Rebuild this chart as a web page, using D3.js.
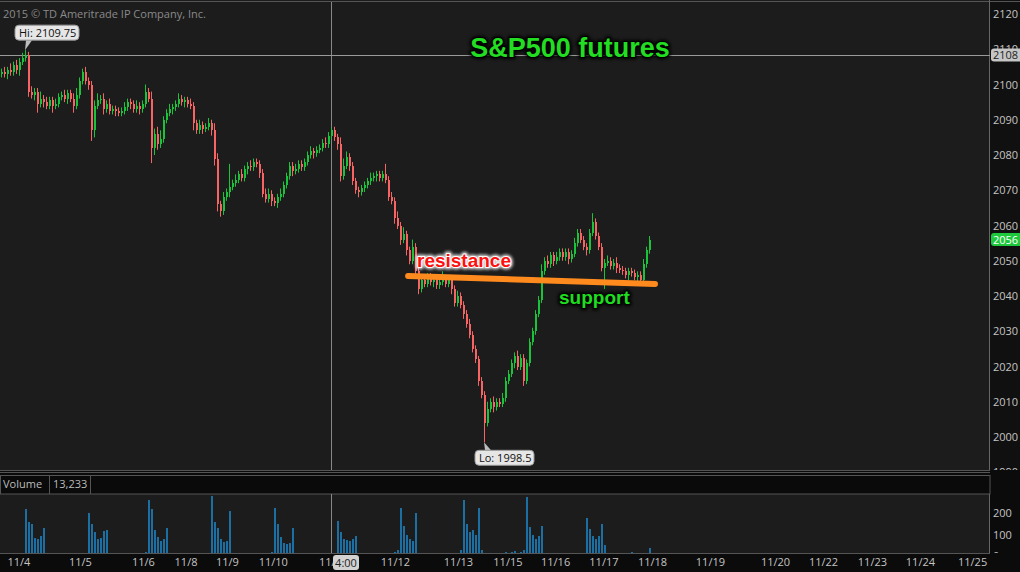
<!DOCTYPE html>
<html><head><meta charset="utf-8">
<script src="https://cdn.jsdelivr.net/npm/d3@7"></script>
<style>
body{margin:0;background:#0b0b0b;}
svg{display:block;font-family:"Open Sans",sans-serif;}
</style></head><body>
<script>
// price bars, one every ~3px in the reference; open = previous close
var openFirst = 2103;
var closes = [
2103.5,2103,2104,2103.5,2105.5,2104,2106.5,2107.5,2108.5,2098,
2097,2098,2094.5,2096,2095,2094,2095.5,2094,2094.5,2096.5,
2097,2096,2097.5,2096,2094,2097,2101,2103.5,2101,2100,
2087,2094,2095.5,2096,2093,2094.5,2092.5,2093,2092.5,2092,
2092.5,2093.5,2095,2094.5,2093,2094,2093,2094.5,2098,2096,
2082,2086,2083,2084.5,2090,2092,2093,2093.5,2094.5,2096,
2095,2095.5,2094.5,2094,2089,2087,2088.5,2087.5,2088,2089,
2087,2079,2066,2064,2068,2069.5,2071,2072,2073,2074.5,
2073.5,2076,2077,2076.5,2078,2077.5,2075,2069,2067.5,2069,
2067,2066.5,2068,2069,2071.5,2074,2077,2075.5,2076,2077.5,
2076.5,2078,2080,2081,2080.5,2081.5,2082,2083.5,2083,2085.5,
2087,2085,2083,2074,2077,2079.5,2077,2072.5,2070,2069.5,
2070.5,2071.5,2072.5,2073.5,2074,2074.5,2073.5,2074.5,2073,2068,
2067,2062,2060,2056,2057.5,2053,2050,2054,2047,2042,
2044.5,2043.5,2045.5,2044,2044.5,2043,2044,2045,2043.5,2045,
2042,2038,2040,2037.5,2035,2032,2029,2025,2022,2016,
2012,2004,2008,2010,2008.5,2010,2009.5,2011,2016,2018,
2021,2023,2020,2022.5,2016,2021,2027,2030,2035,2039,
2047,2050,2049,2051.5,2050,2051,2052.5,2051,2052.5,2050.5,
2052,2055,2058,2056,2054,2053,2058,2061,2057,2054,
2048,2049.5,2050,2048.5,2049.5,2048,2047.5,2047,2046,2047,
2046.5,2045.5,2046,2044.5,2049,2053,2056];
var wickUp = [
1,1.5,1,2,1,1.5,1,1.5,1.25,.75,
1.5,1,1,2,1,1.5,1,1,1.5,1,
1,1.5,1,1,1.5,2,1,1,1.5,1,
1,1.5,2,1,1.5,1,1.5,1,1,1,
1,1.5,1,1,1,1.5,1,1,2,1,
2,1.5,2,2.5,1,1,1.5,1,1,1.5,
1,1,1,1.5,1,1,1.5,1,1,1.5,
1,2,1.5,1,1.5,1,6.5,1,1.5,1,
1.5,1,1,1.5,1,1,1,1,1.5,1.5,
1,1,1,1.5,1,1,1,1,1.5,1,
1,1,1,1.5,1,1,1,1,1.5,1,
.75,1,1,2,2,1.5,1,1,1,1,
1,1,1,1.5,1,1,1,1,3,1,
1.5,1,2,1,2,1,1,2,1,1,
1,1.5,1,1,1,1,1,2,1,1,
1,1,1.5,1,1,1,1.5,1,1,1,
1,1,2,1,1.5,1,1,1.5,1,1,
1,1,1.5,1,1,1,1,1,1,1,
2,1,1.5,1,1,1.5,1,1,1,1,
1,1.5,1,1,1,1,1,2.5,1,1,
1,1,1.5,1,1,1.5,1,1,1,1,
1,1,1,1,1.5,1,1];
var wickDn = [
1,1,1.5,1,1,1,1.5,1,1,1.5,
1,1.5,2.5,1,1.5,1,1,2,1,1,
1,1,1.5,1,2,1,1,1,1,1.5,
3,2,1,1,1.5,1,1,1,1.5,1,
1,1,1,1.5,1,1,1.5,1,1,1,
4.3,2,1.5,1,1,1,1,1.5,1,1,
1,1.5,1,1,2,1,1,1.5,1,1,
1.5,2,2,1.5,1,1,1.5,1,1,1,
1,1,1.5,1,1,1,1.5,1,1,1,
1.5,1,1.5,1,1,1,1,1.5,1,1,
1,1,1,1,1.5,1,1,1,1,1,
1,1,1.5,1.5,1,1,1.5,1,1,1.5,
1,1,1,1,1,1.5,1,1,1,1,
1,1.5,1,1.5,1,1.5,1,1,1.5,1.5,
1,1,1,1,1.5,1,1,1,1,1,
1.5,1,1,1,1.5,1,1,1,1,1.5,
1,5.5,1,1,1.5,1,1,1,1,1,
1,1.5,1,1,1.5,1,1,1,1,1,
1,1,1,1,1.5,1,1,1,1,1.5,
1,1,1,1,1,1.5,1,1,1,1,
1,6,1,1,1,1.5,1,1,1,1.5,
1,1,1.5,1,1,1,1];
var volumes = [
4,6,5,3,2,8,12,10,
217,160,150,85,80,95,130,
1,1,1,0,0,1,1,1,
5,6,4,7,5,12,
201,150,110,80,85,115,121,
1,1,0,0,1,1,0,1,
4,3,6,8,20,
260,218,120,90,70,80,130,
1,1,1,0,0,1,1,
3,5,6,4,7,5,10,
279,160,130,80,65,70,209,
1,1,0,1,0,1,1,3,
8,10,6,9,12,20,
225,150,90,60,55,60,130,
1,1,0,1,0,1,1,2,
5,7,6,8,10,14,
163,110,80,75,70,80,93,
1,1,0,1,1,0,1,2,
8,6,9,7,20,30,
225,140,100,80,70,201,15,
1,1,0,1,1,0,1,2,
10,8,12,9,15,30,
260,150,110,120,100,225,30,
10,8,12,6,5,
10,15,20,12,18,25,14,20,
30,276,135,100,80,95,140,5,
1,1,0,1,0,1,2,
10,9,12,8,10,15,
176,125,95,80,95,149,50,
1,1,0,1,0,1,1,2,
20,5,8,10,12,10,39];

var tickBars = [5.8,26.3,47.3,61.5,75.3,90.6,110.7,131.3,152.3,168.8,184.7,200.8,217,236.3,258,274,290.3,306.3,323.7];
var tickLabels = ["11/4","11/5","11/6","11/8","11/9","11/10","11/11","11/12","11/13","11/15","11/16","11/17","11/18","11/19","11/20","11/22","11/23","11/24","11/25"];
var priceTicks = [1990,2000,2010,2020,2030,2040,2050,2060,2070,2080,2090,2100,2110,2120];
var volTicks = [0,100,200];

var hiPoint = {bar: 8, price: 2109.75, text: "Hi: 2109.75"};
var loPoint = {bar: 161, price: 1998.5, text: "Lo: 1998.5"};
var trendLine = [{bar: 135.7, price: 2045.7}, {bar: 218, price: 2043.4}];
var crossBar = 110, crossPrice = 2108.4, crossTime = "4:00";
var lastPrice = 2056;
var lastVolume = "13,233";

var W = 1020, H = 572, plotR = 990;
var green = "#17c43a", red = "#f86464", flat = "#b4b4b4", volColor = "#1b6fa3";

var svg = d3.select("body").append("svg").attr("width", W).attr("height", H);
var defs = svg.append("defs");
defs.append("clipPath").attr("id", "pclip").append("rect").attr("x", 0).attr("y", 2).attr("width", plotR).attr("height", 468);
defs.append("clipPath").attr("id", "paxclip").append("rect").attr("x", plotR).attr("y", 0).attr("width", 30).attr("height", 470);
defs.append("clipPath").attr("id", "vaxclip").append("rect").attr("x", plotR).attr("y", 494).attr("width", 30).attr("height", 59);
var blur = defs.append("filter").attr("id", "soft").attr("x", "-20%").attr("y", "-40%").attr("width", "140%").attr("height", "180%");
blur.append("feGaussianBlur").attr("stdDeviation", 1.5);

var x = d3.scaleLinear().domain([0, 330]).range([1, 991]);
var y = d3.scaleLinear().domain([2000, 2120]).range([437, 14]);
var yv = d3.scaleLinear().domain([0, 200]).range([556, 513]);

// panels
svg.append("rect").attr("x", 0).attr("y", 0).attr("width", plotR).attr("height", 470).attr("fill", "#1c1c1c");
svg.append("rect").attr("x", plotR).attr("y", 0).attr("width", 30).attr("height", 470).attr("fill", "#101010");
svg.append("rect").attr("x", 0).attr("y", 494).attr("width", plotR).attr("height", 59).attr("fill", "#1c1c1c");
svg.append("rect").attr("x", 0.5).attr("y", 475.5).attr("width", plotR - 0.5).attr("height", 18.5).attr("fill", "#0a0a0a").attr("stroke", "#555");
svg.append("line").attr("x1", 0).attr("x2", W).attr("y1", 1.5).attr("y2", 1.5).attr("stroke", "#555");
[470.5, 472.5].forEach(function(v){
  svg.append("line").attr("x1", 0).attr("x2", plotR).attr("y1", v).attr("y2", v).attr("stroke", "#555");
});
svg.append("line").attr("x1", plotR - 0.5).attr("x2", plotR - 0.5).attr("y1", 0).attr("y2", 470).attr("stroke", "#666");
svg.append("line").attr("x1", plotR - 0.5).attr("x2", plotR - 0.5).attr("y1", 494).attr("y2", 553).attr("stroke", "#666");
svg.append("line").attr("x1", 0).attr("x2", plotR).attr("y1", 553.5).attr("y2", 553.5).attr("stroke", "#555");
[49.5, 90.5].forEach(function(v){
  svg.append("line").attr("x1", v).attr("x2", v).attr("y1", 475).attr("y2", 494).attr("stroke", "#555");
});
svg.append("text").attr("x", 3).attr("y", 488).attr("fill", "#bbb").attr("font-size", 11).text("Volume");
svg.append("text").attr("x", 53).attr("y", 488).attr("fill", "#bbb").attr("font-size", 11).text(lastVolume);

svg.append("text").attr("x", 3).attr("y", 18).attr("fill", "#8a8a8a").attr("font-size", 11).text("2015 \u00a9 TD Ameritrade IP Company, Inc.");

// crosshair
svg.append("line").attr("x1", x(crossBar) + 0.5).attr("x2", x(crossBar) + 0.5).attr("y1", 2).attr("y2", 470).attr("stroke", "#888");
svg.append("line").attr("x1", x(crossBar) + 0.5).attr("x2", x(crossBar) + 0.5).attr("y1", 494).attr("y2", 553).attr("stroke", "#888");
svg.append("line").attr("x1", 0).attr("x2", plotR).attr("y1", Math.round(y(crossPrice)) + 0.5).attr("y2", Math.round(y(crossPrice)) + 0.5).attr("stroke", "#999");

// candles
var bars = closes.map(function(c, i){
  var o = i ? closes[i - 1] : openFirst;
  return {i: i, o: o, c: c, h: Math.max(o, c) + wickUp[i], l: Math.min(o, c) - wickDn[i], v: volumes[i]};
});
function col(d){ return d.c > d.o ? green : (d.c < d.o ? red : flat); }

var pg = svg.append("g").attr("clip-path", "url(#pclip)");
pg.selectAll("line.wick").data(bars).enter().append("line").attr("class", "wick")
  .attr("x1", function(d){ return x(d.i) + 0.5; }).attr("x2", function(d){ return x(d.i) + 0.5; })
  .attr("y1", function(d){ return y(d.h); }).attr("y2", function(d){ return y(d.l); })
  .attr("stroke", col).attr("stroke-width", 1);
pg.selectAll("rect.body").data(bars).enter().append("rect").attr("class", "body")
  .attr("x", function(d){ return x(d.i) - 0.5; }).attr("width", 2)
  .attr("y", function(d){ return y(Math.max(d.o, d.c)); })
  .attr("height", function(d){ return Math.max(1, Math.abs(y(d.o) - y(d.c))); })
  .attr("fill", col).attr("shape-rendering", "crispEdges");

// volume
svg.append("g").selectAll("rect").data(bars).enter().append("rect")
  .attr("x", function(d){ return x(d.i) - 0.5; }).attr("width", 2)
  .attr("y", function(d){ return Math.min(yv(d.v), 553); })
  .attr("height", function(d){ return Math.max(0, 553 - yv(d.v)); })
  .attr("fill", volColor).attr("shape-rendering", "crispEdges");

// axes
var pax = svg.append("g").attr("clip-path", "url(#paxclip)").append("g").attr("transform", "translate(" + plotR + ",0)")
  .call(d3.axisRight(y).tickValues(priceTicks).tickSize(0).tickPadding(3).tickFormat(d3.format("d")));
var vax = svg.append("g").attr("clip-path", "url(#vaxclip)").append("g").attr("transform", "translate(" + plotR + ",0)")
  .call(d3.axisRight(yv).tickValues(volTicks).tickSize(0).tickPadding(3));
var xax = svg.append("g").attr("transform", "translate(0,553)")
  .call(d3.axisBottom(x).tickValues(tickBars).tickSize(0).tickPadding(5).tickFormat(function(d, i){ return tickLabels[i]; }));
[pax, vax, xax].forEach(function(a){
  a.select(".domain").remove();
  a.selectAll("text").attr("fill", "#c4c4c4").attr("font-size", 11).attr("font-family", "Open Sans, sans-serif");
});

// axis value labels
function axisTag(v, bg, fg){
  var g = svg.append("g").attr("transform", "translate(" + (plotR + 1) + "," + y(v) + ")");
  g.append("rect").attr("x", 0).attr("y", -6.5).attr("width", 32).attr("height", 13).attr("rx", 3).attr("fill", bg);
  g.append("text").attr("x", 2).attr("y", 4).attr("fill", fg).attr("font-size", 11).text(Math.floor(v));
}
axisTag(crossPrice, "#c6c6c6", "#222");
axisTag(lastPrice, "#1ec83c", "#fff");

var tg = svg.append("g").attr("transform", "translate(" + (x(crossBar) + 2) + ",555)");
tg.append("rect").attr("width", 26).attr("height", 15).attr("rx", 3).attr("fill", "#d2d2d2");
tg.append("text").attr("x", 13).attr("y", 11.5).attr("text-anchor", "middle").attr("fill", "#222").attr("font-size", 11).text(crossTime);

// hi / lo callouts
function callout(p, bx, by, bw, ptr){
  var px = x(p.bar), py = y(p.price);
  var g = svg.append("g");
  g.append("path").attr("d", "M" + px + "," + py + "L" + (px + ptr[0]) + "," + (py + ptr[1]) + "L" + (px + ptr[2]) + "," + (py + ptr[1]) + "Z").attr("fill", "#bdbdbd");
  g.append("rect").attr("x", px + bx).attr("y", py + by).attr("width", bw).attr("height", 15).attr("rx", 4)
    .attr("fill", "#e6e6e6").attr("stroke", "#9a9a9a");
  g.append("text").attr("x", px + bx + 4).attr("y", py + by + 11.5).attr("fill", "#111").attr("font-size", 11).text(p.text);
}
callout(hiPoint, -10, -25, 64, [1, -10, 7]);
callout(loPoint, -9, 8, 59, [1, 8, 7]);

// trend line
svg.append("line")
  .attr("x1", x(trendLine[0].bar)).attr("y1", y(trendLine[0].price))
  .attr("x2", x(trendLine[1].bar)).attr("y2", y(trendLine[1].price))
  .attr("stroke", "#ff8a1e").attr("stroke-width", 6).attr("stroke-linecap", "round");

// labels
function label(txt, lx, ly, size, fill, edge, anchor){
  var f = "'Liberation Sans', Arial, sans-serif";
  svg.append("text").attr("x", lx).attr("y", ly).attr("text-anchor", anchor).attr("font-family", f).attr("font-weight", "bold")
    .attr("font-size", size).attr("fill", edge).attr("stroke", edge).attr("stroke-width", 5).attr("stroke-linejoin", "round")
    .attr("filter", "url(#soft)").attr("opacity", 0.8).text(txt);
  svg.append("text").attr("x", lx).attr("y", ly).attr("text-anchor", anchor).attr("font-family", f).attr("font-weight", "bold")
    .attr("font-size", size).attr("fill", fill).attr("stroke", edge).attr("stroke-width", 2).attr("paint-order", "stroke")
    .attr("stroke-linejoin", "round").text(txt);
}
label("S&P500 futures", 570, 57, 27, "#22dd22", "#000", "middle");
label("resistance", 417, 267, 19, "#ff1010", "#fff", "start");
label("support", 559, 304, 19, "#1fdd1f", "#050505", "start");
</script>
</body></html>
